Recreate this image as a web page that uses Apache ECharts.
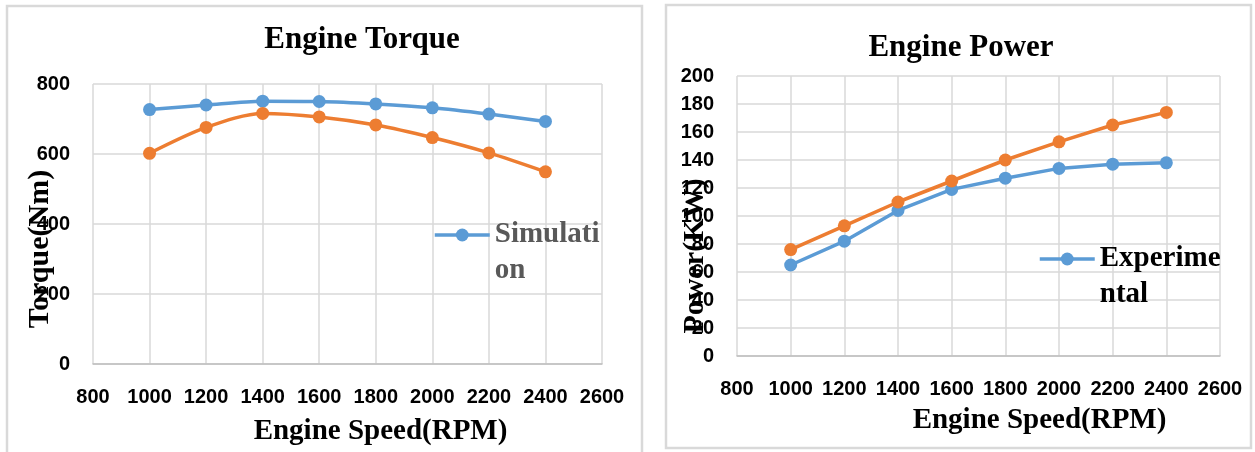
<!DOCTYPE html>
<html>
<head>
<meta charset="utf-8">
<script src="https://cdn.jsdelivr.net/npm/echarts@6/dist/echarts.min.js"></script>
<style>html,body{margin:0;padding:0;background:#fff;}#c{width:1255px;height:452px;}</style>
</head>
<body>
<div id="c"></div>
<script>
const rpm = [1000, 1200, 1400, 1600, 1800, 2000, 2200, 2400];
const torqueSimulation = [727, 740, 751, 750, 743, 732, 714, 693];
const torqueExperimental = [602, 676, 716, 706, 683, 647, 603, 549];
const powerExperimental = [65, 82, 104, 119, 127, 134, 137, 138];
const powerSimulation = [76, 93, 110, 125, 140, 153, 165, 174];
const xTicks = [800, 1000, 1200, 1400, 1600, 1800, 2000, 2200, 2400, 2600];
const torqueTicks = [0, 200, 400, 600, 800];
const powerTicks = [0, 20, 40, 60, 80, 100, 120, 140, 160, 180, 200];

const BLUE = '#5B9BD5', ORANGE = '#ED7D31';
const pairs = (ys) => rpm.map((x, i) => [x, ys[i]]);
const labelFont = {fontFamily: 'Liberation Sans', fontWeight: 'bold', fontSize: 20, color: '#000'};
const serif = {fontFamily: 'Liberation Serif', fontWeight: 'bold', color: '#000'};
const plain = (v) => String(v);

function xAxisOf(gi, padLeft, gap) {
  return {
    type: 'value', gridIndex: gi, min: xTicks[0], max: xTicks[xTicks.length - 1], interval: 200,
    axisLine: {show: true, lineStyle: {color: '#BFBFBF', width: 1.5}},
    axisTick: {show: false},
    splitLine: {show: true, lineStyle: {color: '#D9D9D9', width: 1.5}},
    axisLabel: Object.assign({margin: 23, formatter: plain}, labelFont),
    name: 'Engine Speed(RPM)', nameLocation: 'middle', nameGap: gap, nameMoveOverlap: false,
    nameTextStyle: Object.assign({fontSize: 29, padding: [0, 0, 0, padLeft]}, serif)
  };
}
function yAxisOf(gi, ticks, name, gap, padRight) {
  return {
    type: 'value', gridIndex: gi, min: ticks[0], max: ticks[ticks.length - 1], interval: ticks[1] - ticks[0],
    axisLine: {show: false}, axisTick: {show: false},
    splitLine: {show: true, lineStyle: {color: '#D9D9D9', width: 1.5}},
    axisLabel: Object.assign({margin: 23, formatter: plain}, labelFont),
    name: name, nameLocation: 'middle', nameGap: gap, nameRotate: 90, nameMoveOverlap: false,
    nameTextStyle: Object.assign({fontSize: 30, padding: [0, padRight, 0, 0]}, serif)
  };
}
function lineSeries(name, data, color, xi, smooth) {
  return {
    name: name, type: 'line', xAxisIndex: xi, yAxisIndex: xi, data: data,
    smooth: smooth, symbol: 'circle', symbolSize: 13,
    lineStyle: {color: color, width: 3.5}, itemStyle: {color: color}
  };
}
function legendOf(seriesName, text, left, top, color) {
  return {
    data: [seriesName], left: left, top: top, padding: 0, itemWidth: 55, itemHeight: 16,
    lineStyle: {width: 3.5},
    formatter: () => text,
    textStyle: Object.assign({}, serif, {fontSize: 29, color: color, lineHeight: 36})
  };
}

const chart = echarts.init(document.getElementById('c'), null, {renderer: 'canvas'});
chart.setOption({
  animation: false,
  graphic: [
    {type: 'rect', shape: {x: 7, y: 6, width: 635, height: 460}, style: {fill: 'none', stroke: '#D9D9D9', lineWidth: 2.5}, z: -10},
    {type: 'rect', shape: {x: 666, y: 5, width: 585, height: 443}, style: {fill: 'none', stroke: '#D9D9D9', lineWidth: 2.5}, z: -10}
  ],
  title: [
    {text: 'Engine Torque', left: 362, top: 24, textAlign: 'center', padding: 0, textStyle: Object.assign({fontSize: 31}, serif)},
    {text: 'Engine Power', left: 961, top: 32, textAlign: 'center', padding: 0, textStyle: Object.assign({fontSize: 31}, serif)}
  ],
  grid: [
    {left: 93, top: 84, width: 509, height: 280},
    {left: 737, top: 76, width: 483, height: 280}
  ],
  xAxis: [xAxisOf(0, 66, 53), xAxisOf(1, 122, 50)],
  yAxis: [yAxisOf(0, torqueTicks, 'Torque(Nm)', 38, 50), yAxisOf(1, powerTicks, 'Power(KW)', 27, 80)],
  legend: [
    legendOf('Simulation', '\nSimulati\non', 433, 181, '#595959'),
    legendOf('Experimental power', '\nExperime\nntal', 1038, 205, '#000')
  ],
  series: [
    lineSeries('Simulation', pairs(torqueSimulation), BLUE, 0, 0.3),
    lineSeries('Experimental', pairs(torqueExperimental), ORANGE, 0, 0.3),
    lineSeries('Experimental power', pairs(powerExperimental), BLUE, 1, false),
    lineSeries('Simulation power', pairs(powerSimulation), ORANGE, 1, false)
  ]
});
</script>
</body>
</html>
